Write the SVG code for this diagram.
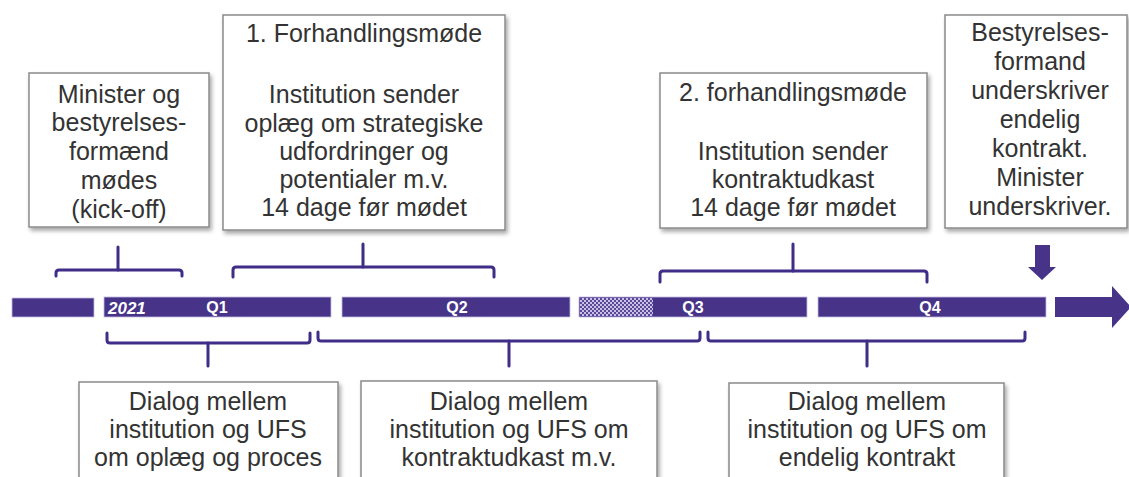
<svg xmlns="http://www.w3.org/2000/svg" width="1129" height="477" viewBox="0 0 1129 477">
<defs>
<filter id="sh" x="-10%" y="-10%" width="130%" height="130%">
<feDropShadow dx="2" dy="3" stdDeviation="2" flood-color="#000" flood-opacity="0.35"/>
</filter>
<pattern id="chk" width="4" height="4" patternUnits="userSpaceOnUse">
<rect width="4" height="4" fill="#5a4898"/>
<rect width="2" height="2" fill="#c9c0e4"/>
<rect x="2" y="2" width="2" height="2" fill="#c9c0e4"/>
</pattern>
</defs>
<style>
.box{fill:#fff;stroke:#8a8a8a;stroke-width:1.5;filter:url(#sh)}
.t{font-family:"Liberation Sans",Arial,sans-serif;font-size:25px;fill:#333;text-anchor:middle}
.bar{fill:#473489;stroke:#c4bbe0;stroke-width:0.8}
.q{font-family:"Liberation Sans",Arial,sans-serif;font-size:16px;font-weight:bold;fill:#fff;text-anchor:middle}
.br{fill:none;stroke:#3f2d88;stroke-width:3;stroke-linecap:round;stroke-linejoin:round}
</style>
<rect width="1129" height="477" fill="#fff"/>

<g id="timeline">
<rect class="bar" x="12" y="298" width="82" height="19"/>
<rect class="bar" x="104" y="297" width="227" height="20"/>
<rect class="bar" x="342" y="297" width="228" height="20"/>
<rect class="bar" x="579" y="297" width="228" height="20"/>
<rect x="580" y="298" width="73" height="18" fill="url(#chk)"/>
<rect class="bar" x="818" y="297" width="228" height="20"/>
<path d="M1055,297 H1112 V286 L1131,307 L1112,328 V317 H1055 Z" fill="#473489"/>
<text x="108" y="314" class="q" style="font-style:italic;text-anchor:start;font-size:17px">2021</text>
<text x="217" y="313" class="q">Q1</text>
<text x="457" y="313" class="q">Q2</text>
<text x="693" y="313" class="q">Q3</text>
<text x="930" y="313" class="q">Q4</text>
<path d="M1035,245 H1050 V267 H1056 L1042,280 L1028,267 H1035 Z" fill="#473489"/>
</g>

<g id="connectors">
<path class="br" d="M56,276 V273 Q56,270 59,270 H179 Q182,270 182,273 V276"/>
<path class="br" d="M118,247 V270"/>
<path class="br" d="M233,277 V270 Q233,267 236,267 H491 Q494,267 494,270 V277"/>
<path class="br" d="M363,244 V267"/>
<path class="br" d="M660,282 V274 Q660,271 663,271 H924 Q927,271 927,274 V282"/>
<path class="br" d="M793,244 V271"/>
<path class="br" d="M107,333 V340 Q107,343 110,343 H307 Q310,343 310,340 V333"/>
<path class="br" d="M208,343 V366"/>
<path class="br" d="M318,332 V338 Q318,341 321,341 H697 Q700,341 700,338 V332"/>
<path class="br" d="M509,341 V366"/>
<path class="br" d="M708,332 V338 Q708,341 711,341 H1022 Q1025,341 1025,338 V332"/>
<path class="br" d="M867,341 V366"/>
</g>

<g id="kickoff">
<rect class="box" x="29" y="73" width="180" height="154"/>
<text class="t" x="119" y="103">Minister og</text>
<text class="t" x="119" y="131">bestyrelses-</text>
<text class="t" x="119" y="160">formænd</text>
<text class="t" x="119" y="189">mødes</text>
<text class="t" x="119" y="218">(kick-off)</text>
</g>

<g id="moede1">
<rect class="box" x="223" y="15" width="282" height="215"/>
<text class="t" x="364" y="42">1. Forhandlingsmøde</text>
<text class="t" x="364" y="103">Institution sender</text>
<text class="t" x="364" y="132">oplæg om strategiske</text>
<text class="t" x="364" y="160">udfordringer og</text>
<text class="t" x="364" y="188">potentialer m.v.</text>
<text class="t" x="364" y="216">14 dage før mødet</text>
</g>

<g id="moede2">
<rect class="box" x="660" y="73" width="267" height="155"/>
<text class="t" x="793" y="101">2. forhandlingsmøde</text>
<text class="t" x="793" y="160">Institution sender</text>
<text class="t" x="793" y="188">kontraktudkast</text>
<text class="t" x="793" y="216">14 dage før mødet</text>
</g>

<g id="underskrift">
<rect class="box" x="945" y="15" width="182" height="213"/>
<text class="t" x="1040" y="41">Bestyrelses-</text>
<text class="t" x="1040" y="70">formand</text>
<text class="t" x="1040" y="99">underskriver</text>
<text class="t" x="1040" y="128">endelig</text>
<text class="t" x="1040" y="157">kontrakt.</text>
<text class="t" x="1040" y="186">Minister</text>
<text class="t" x="1040" y="215">underskriver.</text>
</g>

<g id="dialog1">
<rect class="box" x="79" y="382" width="259" height="110"/>
<text class="t" x="208" y="410">Dialog mellem</text>
<text class="t" x="208" y="438">institution og UFS</text>
<text class="t" x="208" y="466">om oplæg og proces</text>
</g>

<g id="dialog2">
<rect class="box" x="361" y="381" width="296" height="110"/>
<text class="t" x="509" y="410">Dialog mellem</text>
<text class="t" x="509" y="438">institution og UFS om</text>
<text class="t" x="509" y="466">kontraktudkast m.v.</text>
</g>

<g id="dialog3">
<rect class="box" x="729" y="383" width="275" height="110"/>
<text class="t" x="867" y="410">Dialog mellem</text>
<text class="t" x="867" y="438">institution og UFS om</text>
<text class="t" x="867" y="466">endelig kontrakt</text>
</g>
</svg>
